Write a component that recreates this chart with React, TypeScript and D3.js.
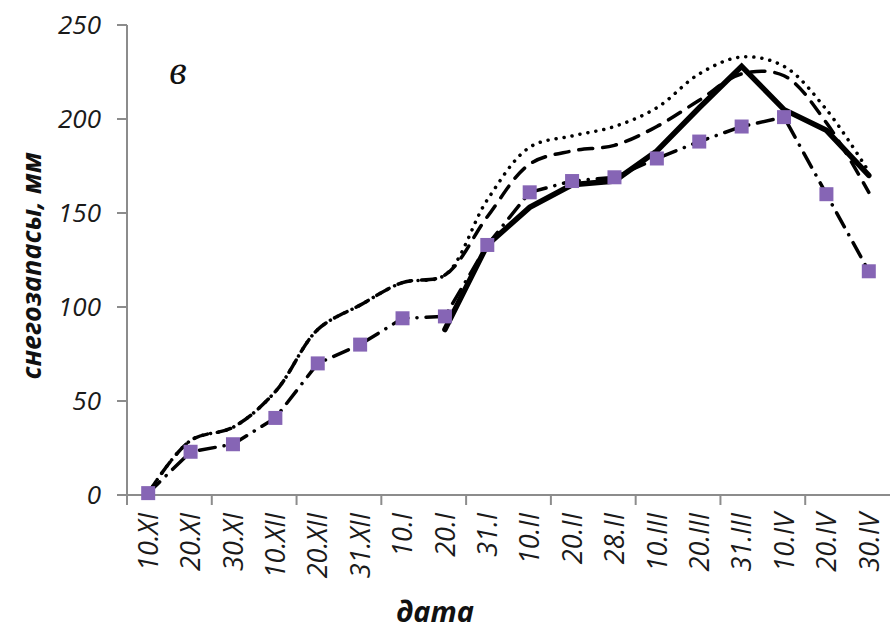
import { useEffect, useRef } from "react"
import * as d3 from "d3"

const dates = [
  "10.XI", "20.XI", "30.XI", "10.XII", "20.XII", "31.XII", "10.I", "20.I", "31.I",
  "10.II", "20.II", "28.II", "10.III", "20.III", "31.III", "10.IV", "20.IV", "30.IV",
]

// сплошная линия (начинается с 20.I)
const solid: (number | null)[] = [
  null, null, null, null, null, null, null, 88, 133,
  153, 165, 167, 183, 206, 228, 205, 194, 170,
]

// пунктир (точки)
const dotted = [1, 29, 36, 55, 88, 101, 113, 117, 157, 185, 191, 196, 206, 224, 233, 228, 205, 172]

// штрих
const dashed = [1, 29, 36, 55, 88, 101, 113, 117, 148, 176, 183, 186, 196, 210, 224, 223, 198, 161]

// штрих-пунктир с квадратами
const marked = [1, 23, 27, 41, 70, 80, 94, 95, 133, 161, 167, 169, 179, 188, 196, 201, 160, 119]

const yTicks = [0, 50, 100, 150, 200, 250]

export default function App() {
  const svgRef = useRef(null)

  useEffect(() => {
    if (!svgRef.current) return
    const svg = d3.select(svgRef.current)
    svg.selectAll("*").remove()

    const width = 891
    const height = 631
    const left = 127
    const right = 890
    const top = 25
    const bottom = 495

    const x = d3.scaleBand().domain(dates).range([left, right]).padding(0)
    const cx = (d: string) => (x(d) as number) + x.bandwidth() / 2
    const y = d3.scaleLinear().domain([0, 250]).range([bottom, top])

    const axisColor = "#8c8c8c"
    const font = "'Open Sans', 'DejaVu Sans', sans-serif"

    // ось Y
    svg.append("line")
      .attr("x1", left).attr("x2", left).attr("y1", top).attr("y2", bottom)
      .attr("stroke", axisColor).attr("stroke-width", 2)
    yTicks.forEach((t) => {
      svg.append("line")
        .attr("x1", left - 10).attr("x2", left).attr("y1", y(t)).attr("y2", y(t))
        .attr("stroke", axisColor).attr("stroke-width", 2)
      svg.append("text")
        .attr("x", 101).attr("y", y(t))
        .attr("dy", "0.36em")
        .attr("text-anchor", "end")
        .attr("font-family", font)
        .attr("font-style", "italic")
        .attr("font-size", "26px")
        .attr("fill", "#1a1a1a")
        .text(t)
    })

    // ось X
    svg.append("line")
      .attr("x1", left - 10).attr("x2", right).attr("y1", bottom).attr("y2", bottom)
      .attr("stroke", axisColor).attr("stroke-width", 2)
    dates.forEach((d, i) => {
      if (i % 2 === 0) {
        const tx = x(d) as number
        svg.append("line")
          .attr("x1", tx).attr("x2", tx).attr("y1", bottom).attr("y2", bottom + 10)
          .attr("stroke", axisColor).attr("stroke-width", 2)
      }
      svg.append("text")
        .attr("transform", `translate(${cx(d)},${bottom + 18}) rotate(-90)`)
        .attr("dy", "0.36em")
        .attr("text-anchor", "end")
        .attr("font-family", font)
        .attr("font-style", "italic")
        .attr("font-size", "27px")
        .attr("fill", "#1a1a1a")
        .text(d)
    })

    // подписи осей
    svg.append("text")
      .attr("transform", `translate(31,266) rotate(-90)`)
      .attr("dy", "0.36em")
      .attr("text-anchor", "middle")
      .attr("font-family", font)
      .attr("font-style", "italic")
      .attr("font-weight", "bold")
      .attr("font-size", "27px")
      .attr("fill", "#111")
      .text("снегозапасы, мм")

    svg.append("text")
      .attr("x", 435).attr("y", 612)
      .attr("dy", "0.36em")
      .attr("text-anchor", "middle")
      .attr("font-family", font)
      .attr("font-style", "italic")
      .attr("font-weight", "bold")
      .attr("font-size", "29px")
      .attr("fill", "#111")
      .text("дата")

    svg.append("text")
      .attr("x", 178).attr("y", 84)
      .attr("text-anchor", "middle")
      .attr("font-family", "'Liberation Serif', 'DejaVu Serif', serif")
      .attr("font-style", "italic")
      .attr("font-size", "40px")
      .attr("fill", "#111")
      .text("в")

    const lineOf = (curve: d3.CurveFactory) =>
      d3.line<number | null>()
        .defined((v) => v !== null)
        .x((_, i) => cx(dates[i]))
        .y((v) => y(v as number))
        .curve(curve)

    // пунктир
    svg.append("path")
      .attr("d", lineOf(d3.curveCatmullRom.alpha(0.5))(dotted))
      .attr("fill", "none")
      .attr("stroke", "#000")
      .attr("stroke-width", 3.5)
      .attr("stroke-linecap", "round")
      .attr("stroke-dasharray", "0.1 8")

    // штрих
    svg.append("path")
      .attr("d", lineOf(d3.curveCatmullRom.alpha(0.5))(dashed))
      .attr("fill", "none")
      .attr("stroke", "#000")
      .attr("stroke-width", 3.5)
      .attr("stroke-linecap", "round")
      .attr("stroke-dasharray", "14 10")

    // сплошная
    svg.append("path")
      .attr("d", lineOf(d3.curveLinear)(solid))
      .attr("fill", "none")
      .attr("stroke", "#000")
      .attr("stroke-width", 5.5)
      .attr("stroke-linecap", "round")
      .attr("stroke-linejoin", "miter")

    // штрих-пунктир
    svg.append("path")
      .attr("d", lineOf(d3.curveLinear)(marked))
      .attr("fill", "none")
      .attr("stroke", "#000")
      .attr("stroke-width", 3.5)
      .attr("stroke-linecap", "round")
      .attr("stroke-dasharray", "16 9 0.1 9")

    svg.append("g")
      .selectAll("rect")
      .data(marked)
      .enter()
      .append("rect")
      .attr("x", (_, i) => cx(dates[i]) - 7)
      .attr("y", (v) => y(v) - 7)
      .attr("width", 14)
      .attr("height", 14)
      .attr("fill", "#8665b5")

    svg.attr("width", width).attr("height", height)
  }, [])

  return (
    <div style={{ position: "absolute", left: 0, top: 0, background: "#fff" }}>
      <svg ref={svgRef}></svg>
    </div>
  )
}
